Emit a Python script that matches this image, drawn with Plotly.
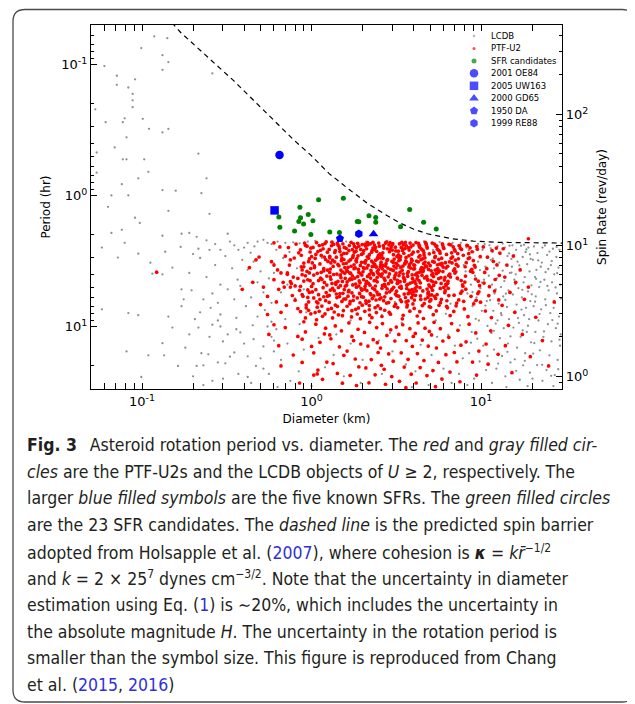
import math
import plotly.graph_objects as go

# ---------------- data ----------------
# LCDB objects (diameter km, period hr)
lcdb_points = [
    (0.118,0.061),(0.141,0.063),(0.099,0.075),(0.132,0.085),(0.143,0.096),(0.06,0.103),(0.132,0.11),
    (0.071,0.122),(0.091,0.13),(0.071,0.143),(0.083,0.15),(0.088,0.168),(0.088,0.188),(0.088,0.212),
    (0.053,0.22),(0.101,0.26),(0.079,0.258),(0.061,0.276),(0.077,0.276),(0.11,0.31),(0.132,0.33),
    (0.143,0.31),(0.081,0.36),(0.069,0.43),(0.054,0.47),(0.215,0.48),(0.077,0.53),(0.081,0.53),
    (0.103,0.53),(0.109,0.66),(0.054,0.67),(0.095,0.74),(0.24,0.74),(0.076,0.82),(0.132,0.91),
    (0.158,0.92),(0.224,0.96),(0.066,1.0),(0.083,1.0),(0.26,0.117),(0.063,1.22),(0.143,1.31),
    (0.25,1.38),(0.091,1.48),(0.097,1.62),(0.066,1.93),(0.076,1.83),(0.132,2.03),(0.171,1.96),
    (0.19,1.93),(0.21,2.07),(0.32,1.96),(0.079,2.3),(0.058,2.5),(0.095,2.78),(0.072,2.98),
    (0.137,2.69),(0.215,2.55),(0.25,2.6),(0.29,2.6),(0.169,2.47),(0.112,3.26),(0.151,3.55),
    (0.132,4.0),(0.115,3.95),(0.171,5.2),(0.196,5.3),(0.176,6.2),(0.058,7.4),(0.083,7.9),
    (0.095,8.2),(0.143,8.4),(0.171,7.0),(0.23,6.2),(0.254,7.2),(0.29,8.1),(0.151,10.2),
    (0.215,10.2),(0.26,9.7),(0.132,13.4),(0.081,15.5),(0.109,16.6),(0.135,16.6),(0.224,16.0),
    (0.246,16.3),(0.28,18.8),(0.31,19.1),(0.21,20.0),(0.23,19.8),(0.099,24.3),(0.2,24.0),
    (0.26,26.0),(0.37,23.0),(0.42,24.3),(0.163,20.0),(0.35,2.4),(0.37,2.6),(0.4,2.5),
    (0.437,2.74),(0.48,2.25),(0.52,2.18),(0.55,2.3),(0.455,3.2),(0.42,3.68),(0.366,4.39),
    (0.48,4.6),(0.52,5.5),(0.35,6.2),(0.41,7.0),(0.48,8.4),(0.55,10.0),(0.38,11.1),(0.455,12.5),
    (0.52,14.2),(0.35,15.8),(0.47,20.0),(0.63,29.0),(0.42,16.9),(0.32,11.5),(0.29,10.0),
    (0.22,3.0),(0.27,3.4),(0.31,2.9),(0.24,4.2),(0.29,4.8),(0.34,3.6),(0.26,5.6),(0.32,5.2),
    (0.38,4.9),(0.22,7.8),(0.28,6.6),(0.36,8.6),(0.44,6.0),(0.5,3.8),(0.56,4.3),(0.6,3.3),
    (0.53,7.5),(0.58,9.2),(0.45,9.8),(0.4,13.5),(0.3,13.0),(0.25,12.0),(0.19,11.5),(0.18,14.5),
    (0.33,17.0),(0.5,17.5),(0.56,23.0),(0.44,27.0),(0.3,25.0),(0.23,28.0),(0.19,3.9),(0.205,8.8),
    (0.27,2.35),(0.33,2.25),(0.42,2.3),(0.46,2.45),(0.39,3.1),(0.28,9.0),(0.36,10.5),(0.6,12.8),
    (0.24,2.2),(0.2,2.8),
    (0.58,2.35),(0.63,2.25),(0.7,2.3),(0.78,2.28),(0.85,2.32),(0.95,2.25),(0.62,2.6),(0.74,2.7),
    (0.68,3.0),(0.82,3.6),(0.6,3.9),(0.72,4.8),(0.9,5.2),(0.66,5.5),(0.8,6.1),(0.58,6.6),
    (0.93,7.8),(0.7,8.8),(0.85,9.6),(0.62,10.5),(1.05,2.22),(1.3,2.28),(1.6,2.25),(2.1,2.25),
    (2.8,2.22),(3.6,2.25),(4.6,2.24),(5.7,2.27),(6.8,2.3),(7.6,2.3),(1.15,3.0),(1.45,4.1),
    (1.9,5.5),(2.4,3.6),(3.1,6.5),(3.9,4.3),(4.8,5.8),(5.6,3.9),(6.6,6.7),(7.3,4.4),(1.2,8.0),
    (1.7,9.0),(2.6,8.2),(3.4,9.4),(4.3,7.6),(5.4,9.0),(6.2,8.0),(7.5,9.8),(7.9,3.4),(7.1,2.7),
    (6.1,3.3),(5.2,2.6),(4.3,2.9),(3.3,3.6),(2.2,2.9),(1.5,3.2),
    (0.58,12.0),(0.72,13.5),(0.9,15.0),(1.1,12.2),(1.35,16.5),(1.7,13.5),(2.0,18.0),(2.5,12.8),
    (3.0,15.5),(3.6,19.5),(4.4,13.8),(5.1,16.5),(6.0,21.0),(7.0,14.0),(7.8,17.5),(0.66,18.0),
    (0.84,22.0),(1.2,20.5),(1.55,24.0),(1.95,27.0),(2.6,23.0),(3.3,26.5),(4.1,22.0),(4.9,28.0),
    (5.8,25.0),(6.7,27.0),(7.4,23.0),(0.75,26.0),(1.0,28.5),(1.4,11.5),(2.9,11.2),(5.5,12.0),
    (6.4,11.6),(0.6,15.5),(0.52,21.0),(3.9,29.0),
    (8.2,2.5),(9.0,2.7),(10.2,2.6),(8.6,3.0),(9.6,3.2),(10.6,3.5),(8.1,3.8),(9.2,4.1),(10.4,4.4),
    (8.7,4.8),(9.9,5.1),(8.3,5.6),(9.4,6.0),(10.8,6.4),(8.9,7.0),(10.1,7.6),(8.4,8.3),(9.7,9.0),
    (10.9,9.9),(8.8,11.0),(9.5,12.4),(10.3,14.0),(8.5,16.0),(9.8,18.5),(10.7,21.5),(9.1,25.0),
    (8.3,28.0),(10.5,2.35),(9.3,2.45),
    (11.2,2.4),(12.5,2.45),(13.8,2.5),(14.7,2.42),(11.7,2.7),(13.0,2.8),(14.3,2.9),(11.4,3.1),
    (12.8,3.25),(14.1,3.4),(11.9,3.6),(13.4,3.75),(14.8,3.9),(11.1,4.1),(12.4,4.3),(13.7,4.5),
    (11.6,4.8),(13.1,5.0),(14.5,5.3),(12.0,5.6),(13.5,5.9),(11.3,6.3),(12.7,6.7),(14.2,7.1),
    (11.8,7.6),(13.2,8.2),(14.6,8.8),(12.2,9.5),(13.6,10.3),(11.5,11.2),(12.9,12.3),(14.4,13.5),
    (11.9,15.0),(13.3,16.8),(14.9,18.8),(12.3,21.0),(13.9,24.0),(11.6,27.0),(14.1,29.0),
    (15.3,2.4),(17.2,2.42),(19.0,2.5),(16.1,2.6),(18.3,2.7),(15.6,2.85),(17.6,2.95),(19.6,3.05),
    (16.4,3.2),(18.7,3.35),(15.2,3.5),(17.0,3.65),(19.3,3.8),(16.0,4.0),(18.1,4.2),(15.7,4.4),
    (17.8,4.6),(19.8,4.85),(16.6,5.1),(18.9,5.4),(15.4,5.7),(17.4,6.0),(19.5,6.4),(16.2,6.8),
    (18.4,7.2),(15.9,7.7),(17.9,8.2),(19.2,8.8),(16.7,9.4),(15.5,10.2),(18.6,11.0),(17.1,12.0),
    (19.7,13.2),(16.3,14.5),(18.2,16.0),(15.8,17.8),(17.7,19.8),(19.4,22.5),(16.9,25.5),
    (18.8,28.5),(15.1,3.05),(17.5,5.25),
    (20.5,2.45),(23.0,2.5),(26.5,2.55),(29.0,2.6),(21.5,2.75),(24.5,2.85),(27.8,2.95),(20.2,3.1),
    (22.8,3.25),(25.8,3.4),(28.6,3.55),(21.2,3.7),(24.0,3.85),(27.0,4.0),(20.8,4.2),(23.6,4.4),
    (26.2,4.6),(29.3,4.8),(22.0,5.0),(25.0,5.3),(28.0,5.6),(21.0,5.9),(23.9,6.2),(27.3,6.6),
    (20.4,7.0),(22.6,7.4),(25.6,7.9),(28.8,8.4),(21.8,9.0),(24.8,9.6),(27.6,10.3),(20.9,11.0),
    (23.3,12.0),(26.0,13.0),(29.2,14.0),(22.2,15.2),(25.3,16.6),(28.3,18.0),(21.4,19.7),
    (24.3,21.5),(27.2,23.5),(23.0,26.0),(26.7,28.5),(20.1,25.0),(29.5,11.5),(22.5,3.5),
    (26.8,7.2),(24.6,4.9),
    (8.45,2.62),(9.85,3.71),(11.4,2.53),(12.9,4.06),(14.6,2.77),(16.8,3.42),(18.5,2.58),(21.7,3.13),
    (25.3,2.68),(28.1,3.92),(8.9,5.47),(10.6,6.93),(12.2,5.21),(13.9,6.28),(15.9,4.77),(17.3,7.43),
    (19.9,5.68),(22.4,4.57),(24.1,6.88),(27.5,5.03),(9.3,8.74),(11.9,10.8),(13.1,7.91),(14.9,11.9),
    (16.5,8.63),(18.9,9.87),(20.6,13.4),(23.5,10.9),(26.3,8.94),(29.0,12.6),(8.7,13.3),(10.9,16.8),
    (12.6,19.2),(14.3,15.6),(16.1,21.8),(18.1,18.3),(20.3,16.1),(22.9,19.6),(25.9,23.8),(28.5,21.2),
    (9.6,2.34),(13.4,2.33),(17.9,2.38),(23.8,2.41),(27.9,2.47),(10.1,4.62),(15.1,3.88),(21.1,4.33),
    (26.1,3.17),(29.6,6.12),(11.7,3.04),(19.4,2.82),(24.9,3.64),(9.1,6.45),(14.0,5.62),(20.8,6.47),
    (12.5,8.97),(17.6,10.7),(22.1,8.04),(28.3,9.52),
]

# PTF-U2 objects (diameter km, period hr)
ptf_points = [
    # D 1.0 - 1.26
    (1.13,2.62),(1.02,4.71),(1.21,3.08),(1.07,2.29),(1.18,5.93),(1.04,3.55),(1.25,7.41),(1.11,2.41),
    (1.09,6.62),(1.23,4.12),(1.01,3.27),(1.16,8.35),(1.14,2.87),(1.06,5.24),(1.2,2.33),(1.03,6.05),
    (1.24,3.71),(1.1,4.46),(1.17,2.55),(1.05,7.83),(1.22,5.51),(1.08,3.93),(1.15,6.98),(1.12,3.33),
    (1.19,2.95),(1.0,4.95),(1.24,2.71),(1.07,8.88),(1.13,4.28),(1.02,2.49),(1.18,3.62),(1.21,6.35),
    (1.05,3.02),(1.1,5.72),(1.16,2.38),(1.23,4.83),(1.08,7.12),(1.14,3.86),(1.01,5.45),(1.19,4.61),
    (1.06,2.82),(1.25,3.19),(1.12,6.21),(1.03,4.05),(1.2,8.02),(1.09,2.68),(1.17,5.06),(1.04,3.44),
    (1.22,2.26),(1.11,7.65),(1.15,4.37),(1.07,6.48),(1.24,5.87),(1.0,2.93),(1.18,3.76),
    (1.06,9.6),(1.19,11.4),(1.12,13.2),(1.03,15.9),(1.23,18.7),(1.09,21.5),(1.16,25.3),(1.21,10.3),
    # D 1.26 - 1.58
    (1.42,2.31),(1.29,3.64),(1.55,2.77),(1.33,5.12),(1.48,4.03),(1.27,2.58),(1.51,6.44),(1.37,3.21),
    (1.45,2.44),(1.31,7.28),(1.57,3.92),(1.39,4.77),(1.28,2.91),(1.53,5.58),(1.35,2.36),(1.44,8.14),
    (1.3,4.36),(1.5,3.13),(1.41,6.02),(1.56,2.49),(1.34,3.48),(1.47,2.68),(1.27,5.79),(1.52,4.53),
    (1.38,6.87),(1.43,3.36),(1.32,2.27),(1.54,7.56),(1.4,2.96),(1.29,4.18),(1.49,3.71),(1.36,5.33),
    (1.58,4.29),(1.46,2.54),(1.33,8.61),(1.51,3.02),(1.28,3.87),(1.44,5.04),(1.37,2.72),(1.55,6.18),
    (1.31,2.42),(1.48,4.88),(1.42,7.02),(1.3,3.27),(1.57,3.55),(1.39,4.62),(1.27,6.55),(1.53,2.34),
    (1.35,4.01),(1.46,5.91),(1.33,3.11),(1.5,2.85),(1.41,3.98),(1.29,5.27),(1.56,5.23),(1.38,2.63),
    (1.45,3.44),(1.32,4.69),(1.52,8.27),(1.43,2.39),(1.36,7.75),(1.49,4.23),(1.28,2.99),(1.54,3.32),
    (1.4,5.65),
    (1.38,9.9),(1.5,10.8),(1.3,12.4),(1.46,14.3),(1.55,16.6),(1.34,19.2),(1.42,22.8),(1.52,27.1),
    (1.28,11.6),
    # D 1.58 - 2.0
    (1.71,2.28),(1.94,3.42),(1.62,4.57),(1.83,2.66),(1.77,5.86),(1.99,2.37),(1.66,3.17),(1.89,7.22),
    (1.6,2.53),(1.74,4.11),(1.96,5.14),(1.68,6.71),(1.85,3.03),(1.79,2.45),(1.63,3.79),(1.91,4.49),
    (1.72,8.45),(1.97,2.82),(1.65,5.42),(1.81,3.57),(1.87,2.32),(1.59,6.16),(1.75,2.97),(1.93,6.59),
    (1.69,4.33),(1.84,5.01),(1.61,2.76),(1.78,3.38),(1.98,4.05),(1.67,2.41),(1.9,3.86),(1.73,7.58),
    (1.82,4.74),(1.64,3.54),(1.95,2.58),(1.76,6.33),(1.88,2.89),(1.7,3.09),(1.58,4.92),(1.86,8.03),
    (1.92,5.61),(1.66,2.64),(1.8,4.27),(1.97,3.24),(1.73,5.53),(1.62,7.01),(1.89,3.66),(1.77,2.34),
    (1.99,6.88),(1.68,3.91),(1.84,2.51),(1.6,3.29),(1.93,4.64),(1.75,4.82),(1.86,6.05),(1.64,5.87),
    (1.79,2.71),(1.95,3.97),(1.71,3.47),(1.82,7.39),(1.67,4.41),(1.9,2.44),(1.61,3.73),(1.98,5.29),
    (1.76,2.87),(1.87,4.16),(1.69,6.44),(1.83,3.13),(1.74,2.59),(1.94,8.72),
    (1.66,9.4),(1.88,10.5),(1.73,11.9),(1.95,13.6),(1.62,15.4),(1.81,17.7),(1.9,20.3),(1.69,23.6),
    (1.84,28.2),(1.77,12.8),
    # D 2.0 - 2.5
    (2.14,2.29),(2.41,3.51),(2.03,4.39),(2.28,2.62),(2.46,5.72),(2.09,3.14),(2.35,2.39),(2.19,6.93),
    (2.01,2.77),(2.44,4.21),(2.25,3.88),(2.12,5.33),(2.38,2.49),(2.06,7.66),(2.31,3.27),(2.48,2.86),
    (2.17,4.68),(2.22,2.34),(2.04,3.62),(2.4,6.28),(2.29,5.09),(2.11,2.55),(2.45,3.04),(2.2,8.18),
    (2.07,4.94),(2.34,4.47),(2.16,3.41),(2.49,2.31),(2.26,2.71),(2.02,5.97),(2.37,7.19),(2.13,2.94),
    (2.43,5.46),(2.24,3.73),(2.08,2.43),(2.32,4.03),(2.18,6.41),(2.47,3.93),(2.05,3.22),(2.3,2.52),
    (2.21,4.84),(2.42,2.67),(2.1,6.66),(2.36,3.36),(2.27,8.57),(2.15,2.38),(2.44,4.56),(2.01,3.82),
    (2.33,5.84),(2.19,2.83),(2.39,3.12),(2.06,5.18),(2.23,4.27),(2.46,6.95),(2.12,3.57),(2.3,2.28),
    (2.48,3.69),(2.09,4.72),(2.35,2.59),(2.17,3.01),(2.41,7.83),(2.03,2.64),(2.28,6.12),(2.14,4.15),
    (2.45,2.98),(2.22,5.61),(2.38,4.91),(2.07,2.35),(2.33,3.47),(2.19,7.45),(2.26,3.17),(2.11,4.52),
    (2.2,9.3),(2.42,10.2),(2.05,11.1),(2.31,12.6),(2.15,14.1),(2.47,15.8),(2.25,17.9),(2.09,20.7),
    (2.37,23.4),(2.18,26.9),(2.44,13.3),
    # D 2.5 - 3.2
    (2.73,2.31),(3.06,3.46),(2.58,4.13),(2.91,2.57),(3.17,5.38),(2.64,3.02),(2.85,6.57),(3.0,2.36),
    (2.53,2.79),(2.97,4.58),(2.69,3.77),(3.12,2.48),(2.79,5.17),(2.55,7.31),(3.03,3.24),(2.88,2.69),
    (2.62,4.86),(3.15,3.91),(2.76,2.27),(2.51,5.69),(2.94,6.12),(2.67,2.52),(3.09,4.33),(2.82,3.58),
    (2.6,8.39),(3.19,2.92),(2.71,4.44),(2.99,2.61),(2.56,3.37),(2.87,7.79),(3.05,5.02),(2.65,2.41),
    (2.78,3.13),(3.13,6.76),(2.52,4.02),(2.93,3.67),(2.7,5.94),(3.01,2.33),(2.59,2.88),(2.84,4.71),
    (3.16,3.29),(2.66,6.35),(2.95,2.46),(2.74,3.83),(3.08,7.02),(2.54,3.51),(2.89,5.44),(2.63,2.74),
    (3.11,4.07),(2.8,2.55),(2.57,6.04),(2.98,3.19),(2.72,4.95),(3.04,2.83),(2.61,3.96),(2.86,2.38),
    (3.18,5.82),(2.68,4.29),(2.92,8.06),(2.55,2.99),(3.02,3.72),(2.77,6.63),(2.64,3.42),(3.14,2.65),
    (2.83,4.18),(2.51,2.44),(2.96,5.27),(2.7,7.52),(3.07,3.06),(2.6,5.11),(2.9,2.29),(2.75,3.31),
    (2.62,9.5),(2.93,10.6),(2.78,11.7),(3.1,12.9),(2.55,14.6),(2.85,16.2),(3.03,18.4),(2.68,21.2),
    (2.97,24.1),(2.73,27.6),(3.16,10.1),(2.58,19.8),
    # D 3.2 - 4.0
    (3.41,2.28),(3.78,3.37),(3.24,4.62),(3.56,2.54),(3.91,5.23),(3.33,3.09),(3.67,6.84),(3.48,2.38),
    (3.98,2.71),(3.28,4.09),(3.72,3.81),(3.52,5.66),(3.85,2.47),(3.22,7.17),(3.63,3.22),(3.44,2.63),
    (3.94,4.31),(3.36,3.52),(3.81,2.31),(3.58,6.01),(3.26,2.84),(3.7,4.77),(3.47,8.21),(3.88,3.06),
    (3.31,5.02),(3.62,2.42),(3.99,3.64),(3.39,6.46),(3.75,2.89),(3.54,4.38),(3.23,3.41),(3.83,5.54),
    (3.45,2.57),(3.68,3.93),(3.3,2.34),(3.96,6.73),(3.59,3.16),(3.37,4.95),(3.8,7.64),(3.5,2.76),
    (3.27,5.87),(3.73,2.51),(3.42,3.72),(3.92,4.04),(3.61,2.97),(3.34,6.25),(3.86,3.26),(3.53,4.52),
    (3.25,2.66),(3.77,5.31),(3.46,3.46),(3.97,2.39),(3.65,7.09),(3.32,3.87),(3.82,4.66),(3.57,2.29),
    (3.29,3.02),(3.71,6.38),(3.49,4.23),(3.9,2.81),(3.38,2.49),(3.64,5.13),(3.84,3.58),(3.43,8.74),
    (3.21,4.44),(3.76,2.61),(3.55,3.29),(3.95,5.76),(3.35,2.93),(3.69,4.14),
    (3.45,9.7),(3.8,10.4),(3.27,11.5),(3.62,12.8),(3.93,14.2),(3.38,15.9),(3.71,17.8),(3.52,20.4),
    (3.87,23.1),(3.3,26.2),(3.6,29.3),(3.98,11.9),
    # D 4.0 - 5.0
    (4.27,2.32),(4.71,3.44),(4.06,4.51),(4.48,2.59),(4.89,5.46),(4.16,3.17),(4.62,6.69),(4.33,2.42),
    (4.95,2.79),(4.11,4.02),(4.55,3.79),(4.39,5.84),(4.79,2.46),(4.03,7.28),(4.58,3.31),(4.24,2.68),
    (4.84,4.37),(4.45,3.56),(4.13,2.29),(4.68,6.17),(4.36,2.88),(4.92,4.81),(4.2,8.32),(4.52,3.04),
    (4.08,5.12),(4.75,2.37),(4.41,3.67),(4.98,6.41),(4.29,2.95),(4.64,4.26),(4.01,3.39),(4.86,5.59),
    (4.43,2.55),(4.18,3.92),(4.73,2.33),(4.5,6.93),(4.26,3.21),(4.97,4.93),(4.35,7.71),(4.6,2.74),
    (4.1,5.78),(4.81,2.52),(4.47,3.84),(4.22,4.14),(4.66,2.99),(4.04,6.29),(4.9,3.28),(4.38,4.64),
    (4.56,2.64),(4.15,5.36),(4.77,3.49),(4.31,2.41),(4.94,7.06),(4.53,3.73),(4.12,4.72),(4.69,2.28),
    (4.42,3.09),(4.85,6.01),(4.19,4.33),(4.61,2.85),(4.34,2.48),(4.8,5.18),(4.05,3.62),(4.57,8.69),
    (4.3,4.46),
    (4.25,9.4),(4.67,10.3),(4.09,11.3),(4.5,12.7),(4.88,14.1),(4.21,16.1),(4.6,18.2),(4.37,20.6),
    (4.79,23.7),(4.14,27.0),(4.95,10.9),
    # D 5.0 - 6.3
    (5.31,2.35),(5.88,3.41),(5.07,4.47),(5.6,2.61),(6.14,5.33),(5.18,3.19),(5.76,6.58),(5.42,2.44),
    (6.25,2.82),(5.12,4.04),(5.68,3.76),(5.5,5.71),(5.99,2.49),(5.03,7.13),(5.71,3.34),(5.26,2.72),
    (6.07,4.42),(5.55,3.61),(5.15,2.31),(5.83,6.21),(5.37,2.91),(6.19,4.76),(5.22,8.12),(5.63,3.07),
    (5.09,5.06),(5.94,2.39),(5.46,3.69),(6.28,6.36),(5.34,2.97),(5.79,4.24),(5.01,3.43),(6.1,5.52),
    (5.52,2.57),(5.2,3.94),(5.91,2.34),(5.65,6.89),(5.29,3.23),(6.22,4.87),(5.44,7.61),(5.73,2.76),
    (5.11,5.74),(6.03,2.54),(5.58,3.86),(5.24,4.16),(5.85,3.01),(5.06,6.24),(6.16,3.26),(5.4,4.61),
    (5.69,2.66),(5.17,5.29),(5.97,3.52),(5.48,2.43),(6.26,7.02),(5.36,3.71),(5.81,4.69),
    (5.28,9.3),(5.75,10.4),(5.1,11.6),(5.95,12.9),(5.45,14.6),(6.2,16.4),(5.6,18.8),(5.2,21.7),
    (5.88,25.2),(5.38,28.8),
    # D 6.3 - 7.9
    (6.62,2.38),(7.31,3.46),(6.38,4.52),(7.02,2.65),(7.71,5.38),(6.51,3.21),(7.18,6.62),(6.85,2.47),
    (7.85,2.86),(6.44,4.08),(7.09,3.82),(6.93,5.77),(7.54,2.53),(6.33,7.21),(7.14,3.36),(6.7,2.74),
    (7.63,4.46),(6.98,3.63),(6.47,2.36),(7.38,6.27),(6.79,2.94),(7.77,4.82),(6.57,8.26),(7.05,3.11),
    (6.4,5.11),(7.46,2.42),(6.88,3.74),(7.89,6.43),(6.66,3.01),(7.24,4.28),(6.35,3.47),(7.58,5.57),
    (6.96,2.59),(6.54,3.98),(7.42,2.41),(7.12,6.95),(6.74,3.27),(7.81,4.93),(6.9,7.68),(7.28,2.78),
    (6.45,5.81),(7.67,2.58),(7.0,3.91),(6.6,4.19),(7.35,3.04),
    (6.7,9.5),(7.3,10.7),(6.45,12.1),(7.6,13.9),(6.95,15.8),(7.2,18.6),(6.55,22.3),(7.5,26.4),
    # D 7.9 - 10
    (8.31,2.41),(9.22,3.52),(8.02,4.58),(8.84,2.69),(9.71,5.43),(8.17,3.26),(9.04,6.71),(8.6,2.51),
    (9.88,2.93),(8.09,4.12),(8.93,3.86),(8.72,5.89),(9.5,2.57),(7.96,7.35),(9.13,3.41),(8.45,2.78),
    (9.62,4.51),(8.81,3.66),(8.24,2.4),(9.35,6.31),(8.55,2.99),(9.79,4.88),(8.36,8.41),(9.0,3.14),
    (8.12,5.19),(9.44,2.46),(8.67,3.78),(9.92,6.52),(8.4,3.03),(9.27,4.34),(8.05,3.5),(9.56,5.61),
    (8.5,9.6),(9.3,11.2),(8.15,13.1),(9.7,15.4),(8.9,18.7),(9.4,23.5),
    # D 10 - 30
    (10.4,4.66),(11.6,2.63),(12.7,6.27),(10.9,2.96),(12.1,4.38),(10.6,7.62),(11.8,3.18),(12.9,2.75),
    (11.1,5.81),(12.4,3.39),(10.3,2.47),(11.5,8.55),(12.8,4.07),(10.8,3.62),(12.0,5.36),(10.5,3.87),
    (12.3,2.52),(11.2,4.97),(11.4,10.8),(10.7,13.6),(12.6,16.3),(11.0,19.4),
    (13.5,2.55),(15.5,2.9),(14.2,3.4),(17.0,3.7),(13.8,4.2),(16.0,4.6),(19.0,5.0),(14.8,5.5),
    (18.0,6.2),(13.3,6.9),(15.8,7.8),(21.0,8.5),(14.5,9.8),(17.5,11.5),(23.0,12.8),(13.9,14.0),
    (19.5,17.0),(25.0,20.0),(19.0,2.14),(15.2,22.5),(27.0,6.5),
    # D < 1
    (0.47,3.1),(0.43,3.55),(0.52,5.0),(0.55,8.1),(0.6,2.3),(0.65,2.47),(0.63,3.7),(0.55,5.9),
    (0.68,4.6),(0.66,7.8),(0.7,10.2),(0.6,9.7),(0.86,7.7),(0.75,5.0),(0.75,3.1),(0.84,2.74),
    (0.9,3.5),(0.78,4.2),(0.95,4.4),(0.72,4.0),(0.88,5.7),(0.96,6.5),(0.88,12.5),(1.0,14.2),
    (0.88,18.8),(1.08,23.0),(1.03,23.5),(0.6,4.39),(0.49,2.95),(0.6,3.4),(0.66,3.9),(0.64,5.2),
    (0.75,4.55),(0.83,11.9),
    (0.72,3.9),(0.8,6.3),(0.92,2.4),(0.76,4.7),(0.86,2.6),(0.97,5.5),(0.7,2.9),(0.83,7.3),
    (0.94,3.8),(0.79,3.0),(0.9,4.5),(0.99,8.0),(0.74,3.4),(0.85,5.3),(0.96,3.2),(0.81,2.35),
    (0.92,4.1),(0.71,6.9),(0.88,3.7),(0.98,2.7),(0.77,5.8),(0.9,9.2),(0.83,4.3),(0.95,6.0),
    (0.73,2.5),(0.87,3.5),(0.93,7.2),(0.8,4.9),(0.97,3.9),(0.69,5.0),
    (0.91,2.31),(0.97,3.05),(0.88,4.02),(0.95,5.26),(0.99,2.52),(0.93,6.84),(0.87,2.86),(0.98,4.47),
    (0.9,3.28),(0.96,7.52),(0.89,5.88),(0.94,2.44),(0.99,3.61),(0.86,4.93),(0.92,8.6),
    (0.45,4.6),(0.5,6.8),(0.39,5.2),(0.58,3.2),(0.62,6.5),(0.56,11.5),(0.64,14.0),(0.78,16.5),
    (0.66,20.0),(0.85,27.0),(0.92,11.0),(0.122,3.85),
    # densest core, D 1.4 - 6.5, P 3 - 6.5
    (1.52,3.83),(1.73,4.36),(2.07,3.28),(2.36,5.24),(2.61,3.62),(2.93,4.47),(3.27,3.15),(3.64,4.84),
    (4.05,3.41),(4.53,5.35),(5.08,3.76),(5.62,4.31),(6.21,3.57),(1.47,5.61),(1.84,3.21),(2.19,4.02),
    (2.52,6.18),(2.81,3.09),(3.12,5.66),(3.47,3.98),(3.89,6.03),(4.31,3.86),(4.78,4.14),(5.31,5.89),
    (5.87,3.29),(1.61,4.84),(1.97,5.92),(2.28,3.49),(2.69,4.77),(3.03,3.74),(3.38,5.11),(3.75,3.51),
    (4.18,4.97),(4.67,3.22),(5.19,4.56),(5.74,5.12),(6.35,4.68),(1.78,3.62),(2.12,4.63),(2.44,3.81),
    (2.76,5.54),(3.08,4.25),(3.55,3.33),(3.95,4.58),(4.41,6.22),(4.9,3.67),(5.45,3.95),(6.02,5.03),
    (1.55,3.08),(1.9,4.91),(2.24,5.73),(2.57,3.23),(2.88,3.97),(3.2,4.69),(3.61,6.49),(4.0,5.45),
    (4.48,4.07),(4.97,5.76),(5.53,3.38),(6.12,4.22),(1.66,5.31),(2.02,3.55),(2.39,4.43),(2.73,3.46),
    (3.15,3.57),(3.51,4.31),(3.92,3.14),(4.36,5.06),(4.84,4.42),(5.39,6.11),(5.95,3.81),(1.7,3.92),
    (2.31,3.95),(2.98,5.19),(3.71,5.62),(4.6,3.58),(5.25,4.86),(1.43,4.53),(2.09,6.36),(3.33,4.55),
]

# SFR candidates (23)
sfr_diam = [1.10, 1.54, 0.853, 0.641, 0.650, 0.861, 0.956, 0.841, 0.897, 1.018, 0.794, 0.99,
            1.28, 1.46, 1.86, 1.90, 2.18, 2.39, 2.39, 3.79, 3.35, 4.58, 5.44]
sfr_period = [1.08, 1.05, 1.23, 1.46, 1.75, 1.48, 1.40, 1.58, 1.65, 1.56, 1.87, 1.99,
              1.90, 1.92, 1.58, 1.59, 1.43, 1.47, 1.60, 1.28, 1.73, 1.60, 1.80]

# five known super-fast rotators
sfr_names = ["2001 OE84", "2005 UW163", "2000 GD65", "1950 DA", "1999 RE88"]
sfr_known_diam = [0.647, 0.605, 2.32, 1.47, 1.90]
sfr_known_period = [0.492, 1.30, 1.97, 2.13, 1.96]
sfr_symbols = ["circle", "square", "triangle-up", "pentagon", "hexagon"]

# predicted spin barrier (dashed line)
barrier_diam = [0.15, 0.169, 0.347, 0.656, 0.787, 0.986, 1.265, 1.66, 2.13, 2.8, 3.35,
                4.01, 4.82, 6.76, 9.0, 12.4, 20.0, 29.4, 31.0]
barrier_period = [0.048, 0.057, 0.133, 0.30, 0.378, 0.49, 0.678, 0.897, 1.146, 1.43, 1.63,
                  1.81, 1.96, 2.14, 2.23, 2.28, 2.30, 2.31, 2.31]


def sup(s, size):
    # raised, smaller text without plotly's zero-width baseline spacers
    return "<span style='font-size:%gpx;baseline-shift:super'>%s</span>" % (size, s)


# axes
diam_range = [0.05, 30]
period_range = [0.05, 30]
hours_per_day = 24
major_ticks = [0.1, 1, 10]
major_text = ["10" + sup("-1", 9.5), "10" + sup("0", 9.5), "10" + sup("1", 9.5)]
spin_ticks = [1, 10, 100]
spin_text = ["10" + sup("0", 9.5), "10" + sup("1", 9.5), "10" + sup("2", 9.5)]

legend_labels = ["LCDB", "PTF-U2", "SFR candidates"] + sfr_names

LINK = "<span style='color:#2f2fd8'>%s</span>"
caption_lines = [
    "<b>Fig. 3</b>\u2002 Asteroid rotation period vs. diameter. The <i>red</i> and <i>gray filled cir-</i>",
    "<i>cles</i> are the PTF-U2s and the LCDB objects of <i>U</i> \u2265 2, respectively. The",
    "larger <i>blue filled symbols</i> are the five known SFRs. The <i>green filled circles</i>",
    "are the 23 SFR candidates. The <i>dashed line</i> is the predicted spin barrier",
    "adopted from Holsapple et al. (" + LINK % "2007" + "), where cohesion is <b><i>\u03ba</i></b> = <i>kr\u0304</i>" + sup("\u22121/2", 12),
    "and <i>k</i> = 2 \u00d7 25" + sup("7", 12) + " dynes cm" + sup("\u22123/2", 12) + ". Note that the uncertainty in diameter",
    "estimation using Eq. (" + LINK % "1" + ") is \u223c20%, which includes the uncertainty in",
    "the absolute magnitude <i>H</i>. The uncertainty in the rotation period is",
    "smaller than the symbol size. This figure is reproduced from Chang",
    "et al. (" + LINK % "2015" + ", " + LINK % "2016" + ")",
]

# ---------------- layout geometry ----------------
OFF = 8                     # page body margin of the browser
W, H = 635 - OFF, 704 - OFF
ML, MR, MT, MB = 91 - OFF, 73, 25 - OFF, 315
PW, PH = W - ML - MR, H - MT - MB


def px(xp):                 # screen pixel -> paper x
    return (xp - OFF - ML) / PW


def py(yp):                 # screen pixel -> paper y
    return (MT + PH - (yp - OFF)) / PH


lcdb_d = [p[0] for p in lcdb_points]
lcdb_p = [p[1] for p in lcdb_points]
ptf_d = [p[0] for p in ptf_points]
ptf_p = [p[1] for p in ptf_points]

fig = go.Figure()
fig.add_trace(go.Scatter(x=lcdb_d, y=lcdb_p, mode="markers", name="LCDB",
                         marker=dict(color="#8f8f8f", size=2.3, line=dict(width=0))))
fig.add_trace(go.Scatter(x=ptf_d, y=ptf_p, mode="markers", name="PTF-U2",
                         marker=dict(color="#ff0000", size=3.7, line=dict(width=0))))
fig.add_trace(go.Scatter(x=barrier_diam, y=barrier_period, mode="lines",
                         line=dict(color="black", width=1.2, dash="5px,4px")))
fig.add_trace(go.Scatter(x=sfr_diam, y=sfr_period, mode="markers", name="SFR candidates",
                         marker=dict(color="#008000", size=5, line=dict(width=0))))
for name, d, p, sym in zip(sfr_names, sfr_known_diam, sfr_known_period, sfr_symbols):
    fig.add_trace(go.Scatter(x=[d], y=[p], mode="markers", name=name,
                             marker=dict(color="#0000ff", symbol=sym, size=8.5, line=dict(width=0))))
fig.add_trace(go.Scatter(x=[], y=[], yaxis="y2", showlegend=False))

# compact legend drawn on an auxiliary pixel-scaled axis pair
leg_x, leg_tx, leg_y0, leg_gap = 383, 398, 11, 12.45
leg_rows = [leg_y0 + i * leg_gap for i in range(len(legend_labels))]
leg_colors = ["#8f8f8f", "#ff0000", "#008000"] + ["#0000ff"] * 5
leg_sizes = [2.3, 3.0, 5, 8.5, 8.5, 8.5, 8.5, 8.5]
leg_syms = ["circle", "circle", "circle"] + sfr_symbols
fig.add_trace(go.Scatter(x=[leg_x] * len(leg_rows), y=leg_rows, mode="markers",
                         xaxis="x3", yaxis="y3", showlegend=False,
                         marker=dict(color=leg_colors, size=leg_sizes, symbol=leg_syms,
                                     line=dict(width=0))))

ann = []
for lab, yy in zip(legend_labels, leg_rows):
    ann.append(dict(x=leg_tx, y=yy, xref="x3", yref="y3", text=lab, showarrow=False,
                    xanchor="left", yanchor="middle",
                    font=dict(family="DejaVu Sans", size=8.5, color="black")))

cap_font = dict(family="Liberation Sans Narrow, DejaVu Sans Condensed, Arial Narrow, sans-serif",
                size=17.5, color="#231f20")
for i, line in enumerate(caption_lines):
    ann.append(dict(x=px(25), y=py(445 + i * 26.65), xref="paper", yref="paper", text=line,
                    showarrow=False, xanchor="left", yanchor="middle", font=cap_font))


def minor_vals(lo_exp, hi_exp):
    return [m * 10 ** e for e in range(lo_exp, hi_exp) for m in range(2, 10)]


tick_font = dict(family="DejaVu Sans", size=13, color="black")
title_font = dict(family="DejaVu Sans", size=12, color="black")
base = dict(type="log", ticks="inside", ticklen=6, tickwidth=1, tickcolor="black",
            showline=True, linecolor="black", linewidth=1.2, showgrid=False, zeroline=False,
            automargin=False, tickfont=tick_font)

fig.update_layout(
    width=W, height=H, margin=dict(l=ML, r=MR, t=MT, b=MB, autoexpand=False),
    paper_bgcolor="white", plot_bgcolor="white", showlegend=False,
    xaxis=dict(**base, range=[math.log10(v) for v in diam_range], mirror="allticks",
               tickvals=major_ticks, ticktext=major_text,
               minor=dict(ticks="inside", ticklen=3, tickcolor="black", tickvals=minor_vals(-2, 2)),
               title=dict(text="Diameter (km)", font=title_font, standoff=6)),
    yaxis=dict(**base, range=[math.log10(period_range[1]), math.log10(period_range[0])],
               tickvals=major_ticks, ticktext=major_text,
               minor=dict(ticks="inside", ticklen=3, tickcolor="black", tickvals=minor_vals(-2, 2)),
               title=dict(text="Period (hr)", font=title_font, standoff=8)),
    yaxis2=dict(**base, overlaying="y", side="right", anchor="x",
                range=[math.log10(hours_per_day / period_range[1]),
                       math.log10(hours_per_day / period_range[0])],
                tickvals=spin_ticks, ticktext=spin_text,
                minor=dict(ticks="inside", ticklen=3, tickcolor="black", tickvals=minor_vals(-1, 3)),
                title=dict(text="Spin Rate (rev/day)", font=title_font, standoff=10)),
    xaxis3=dict(overlaying="x", range=[0, PW], visible=False, anchor="y3"),
    yaxis3=dict(overlaying="y", range=[PH, 0], visible=False, anchor="x3"),
    annotations=ann,
)

# rounded caption frame
x0, x1, y0, y1, r = 13, 634, 9.5, 702, 12
path = (f"M {px(x0)},{py(y0 + r)} Q {px(x0)},{py(y0)} {px(x0 + r)},{py(y0)} "
        f"L {px(x1 - r)},{py(y0)} Q {px(x1)},{py(y0)} {px(x1)},{py(y0 + r)} "
        f"L {px(x1)},{py(y1 - r)} Q {px(x1)},{py(y1)} {px(x1 - r)},{py(y1)} "
        f"L {px(x0 + r)},{py(y1)} Q {px(x0)},{py(y1)} {px(x0)},{py(y1 - r)} Z")
fig.add_shape(type="path", path=path, xref="paper", yref="paper",
              line=dict(color="#4a4a4a", width=1.3), layer="below")

fig.write_html("out.html")
